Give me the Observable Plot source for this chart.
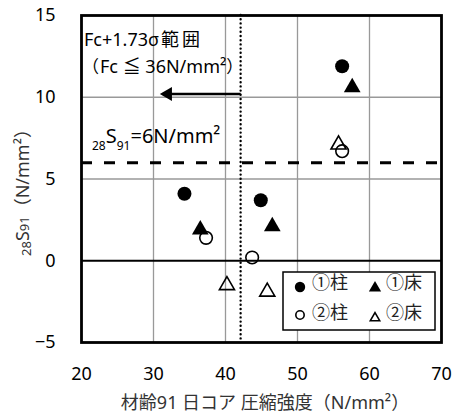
<!DOCTYPE html>
<html><head><meta charset="utf-8">
<script src="https://cdn.jsdelivr.net/npm/d3@7"></script>
<script src="https://cdn.jsdelivr.net/npm/@observablehq/plot@0.6"></script>
<style>body{margin:0;background:#fff}</style>
</head><body><div id="chart"></div>
<script>
const seriesNames = ["①柱", "①床", "②柱", "②床"];
const col1X = [56.2, 34.3, 44.9], col1Y = [11.9, 4.1, 3.7];
const flr1X = [57.6, 36.5, 46.5], flr1Y = [10.6, 1.9, 2.1];
const col2X = [56.2, 37.3, 43.7], col2Y = [6.7, 1.4, 0.2];
const flr2X = [55.7, 40.2, 45.8], flr2Y = [7.1, -1.5, -1.9];
const xTicks = [20, 30, 40, 50, 60, 70];
const yTicks = [-5, 0, 5, 10, 15];
const fcLimit = 42.1;      // dotted vertical line
const sLimit = 6;          // dashed horizontal line
const arrowY = 10.2, arrowTipX = 31.2;

const pts = (xs, ys) => xs.map((x, i) => ({x, y: ys[i]}));
const FONT = "'Noto Sans', 'Noto Sans CJK JP', sans-serif";
const CJK = "'Noto Sans CJK JP', sans-serif";

const chart = Plot.plot({
  width: 454, height: 414,
  marginLeft: 81, marginRight: 13, marginTop: 15, marginBottom: 72,
  style: {fontFamily: FONT, fontSize: "18px", color: "#000", background: "#fff"},
  x: {domain: [20, 70], ticks: xTicks, tickSize: 0, tickPadding: 25, label: null},
  y: {domain: [-5, 15], ticks: yTicks, tickSize: 0, tickPadding: 26, label: null},
  marks: [
    Plot.gridX([30, 40, 50, 60], {stroke: "#999", strokeOpacity: 1, strokeWidth: 1.3}),
    Plot.gridY([5, 10], {stroke: "#999", strokeOpacity: 1, strokeWidth: 1.3}),
    Plot.ruleY([0], {stroke: "#000", strokeWidth: 2.2}),
    Plot.ruleY([sLimit], {stroke: "#000", strokeWidth: 3, strokeDasharray: "11,12"}),
    Plot.ruleX([fcLimit], {stroke: "#000", strokeWidth: 2.4, strokeDasharray: "0,4.2", strokeLinecap: "round"}),
    Plot.link([{x1: fcLimit, x2: arrowTipX + 1.2, y: arrowY}], {x1: "x1", x2: "x2", y1: "y", y2: "y", stroke: "#000", strokeWidth: 2.6}),
    Plot.dot([{x: arrowTipX + 0.8, y: arrowY}], {x: "x", y: "y", symbol: "triangle", r: 5.2, rotate: -90, fill: "#000", stroke: "none"}),
    Plot.dot(pts(col1X, col1Y), {x: "x", y: "y", r: 7, fill: "#000", stroke: "none"}),
    Plot.dot(pts(flr1X, flr1Y), {x: "x", y: "y", symbol: "triangle", r: 6.2, fill: "#000", stroke: "none"}),
    Plot.dot(pts(col2X, col2Y), {x: "x", y: "y", r: 6.3, fill: "none", stroke: "#000", strokeWidth: 1.6}),
    Plot.dot(pts(flr2X, flr2Y), {x: "x", y: "y", symbol: "triangle", r: 5.6, fill: "none", stroke: "#000", strokeWidth: 1.6}),
    Plot.frame({stroke: "#000", strokeWidth: 2.8})
  ]
});
document.getElementById("chart").appendChild(chart);

const svg = d3.select(chart);
const sx = chart.scale("x"), sy = chart.scale("y");
svg.selectAll("[aria-label^='x-axis tick label'] text, [aria-label^='y-axis tick label'] text").attr("fill", "#000");

// annotations
const ann = svg.append("g").attr("font-family", FONT).attr("fill", "#000").attr("text-anchor", "start");
const t1 = ann.append("text").attr("x", sx.apply(20) + 3).attr("y", 46).attr("font-size", 18);
t1.append("tspan").text("Fc+1.73σ");
t1.append("tspan").attr("font-family", CJK).attr("letter-spacing", 3).attr("dx", 2).text("範囲");
const t2 = ann.append("text").attr("x", sx.apply(20) + 1).attr("y", 73).attr("font-size", 18);
t2.append("tspan").attr("font-family", CJK).attr("font-size", 17).text("（");
t2.append("tspan").attr("dx", 1).text("Fc ≦ 36N/mm²");
t2.append("tspan").attr("font-family", CJK).attr("font-size", 17).text("）");
const sl = ann.append("text").attr("x", sx.apply(20) + 11).attr("y", 143).attr("font-size", 20);
sl.append("tspan").attr("font-size", 12).attr("dy", 7).text("28");
sl.append("tspan").attr("dy", -7).text("S");
sl.append("tspan").attr("font-size", 12).attr("dy", 7).text("91");
sl.append("tspan").attr("dy", -7).text("=6N/mm²");

// axis titles
svg.append("text").attr("x", 265).attr("y", 409).attr("text-anchor", "middle")
  .attr("font-family", FONT).attr("font-size", 18).attr("fill", "#333").text("材齢91 日コア 圧縮強度（N/mm²）");
const yl = svg.append("text").attr("transform", "translate(31,188) rotate(-90)").attr("text-anchor", "middle")
  .attr("font-family", FONT).attr("font-size", 18).attr("fill", "#333");
yl.append("tspan").attr("font-size", 13).text("28");
yl.append("tspan").attr("dy", -2).text("S");
yl.append("tspan").attr("font-size", 13).text("91");
yl.append("tspan").text("（N/mm²）");

// legend
const lg = svg.append("g").attr("fill", "#000").attr("text-anchor", "start");
lg.append("rect").attr("x", 283).attr("y", 272).attr("width", 152).attr("height", 58)
  .attr("fill", "#fff").attr("stroke", "#000").attr("stroke-width", 1.5);
const items = [
  {name: seriesNames[0], x: 300, y: 287, tx: 312, ty: 283, sym: d3.symbolCircle, size: 85, fill: "#000", stroke: "none"},
  {name: seriesNames[1], x: 375, y: 288, tx: 386, ty: 283, sym: d3.symbolTriangle, size: 65, fill: "#000", stroke: "none"},
  {name: seriesNames[2], x: 300, y: 315, tx: 312, ty: 313, sym: d3.symbolCircle, size: 55, fill: "none", stroke: "#000"},
  {name: seriesNames[3], x: 375, y: 318, tx: 386, ty: 313, sym: d3.symbolTriangle, size: 38, fill: "none", stroke: "#000"}
];
for (const it of items) {
  lg.append("path").attr("d", d3.symbol(it.sym, it.size)()).attr("transform", `translate(${it.x},${it.y})`)
    .attr("fill", it.fill).attr("stroke", it.stroke).attr("stroke-width", 1.6);
  lg.append("text").attr("x", it.tx).attr("y", it.ty).attr("dy", "0.35em")
    .attr("font-family", CJK).attr("font-size", 18).attr("fill", "#222").text(it.name);
}
</script>
</body></html>
